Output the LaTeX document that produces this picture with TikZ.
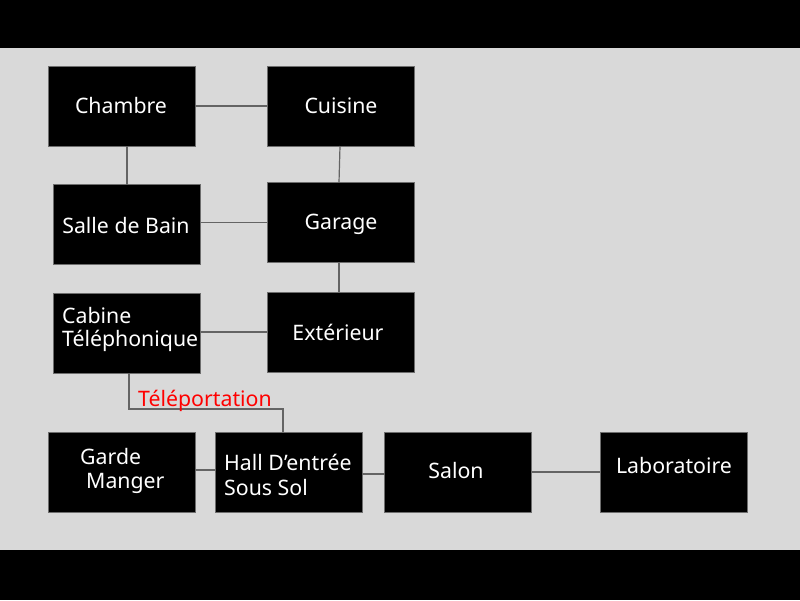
\documentclass[tikz,border=0pt]{standalone}
\usepackage{fontspec}
\setmainfont{Noto Sans}
\begin{document}
\begin{tikzpicture}[x=1pt,y=-1pt,
  room/.style={draw={rgb,255:red,110;green,110;blue,110},line width=0.6pt,fill=black,
    minimum width=147pt,minimum height=80pt,inner sep=0pt,outer sep=0pt},
  lbl/.style={text=white,font=\fontsize{21.3}{25}\selectfont,inner sep=0pt},
  conn/.style={draw={rgb,255:red,100;green,100;blue,100},line width=1.2pt}]
\definecolor{bg}{RGB}{217,217,217}
\useasboundingbox (0,0) rectangle (800,600);
\fill[bg] (0,0) rectangle (800,600);
\fill[black] (0,0) rectangle (800,48);
\fill[black] (0,550) rectangle (800,600);
% rooms
\node[room] (chambre) at (121.5,106) {};
\node[room] (cuisine) at (340.5,106) {};
\node[room] (salle) at (127,224.5) {};
\node[room] (garage) at (340.5,222.5) {};
\node[room] (cabine) at (127,333) {};
\node[room] (exterieur) at (340.5,332) {};
\node[room] (garde) at (121.5,472) {};
\node[room] (hall) at (288.5,472) {};
\node[room] (salon) at (458,472) {};
\node[room] (labo) at (673.5,472) {};
% labels
\node[lbl] at (121,106) {Chambre};
\node[lbl] at (341,106) {Cuisine};
\node[lbl] at (126,226) {Salle de Bain};
\node[lbl] at (341,224) {Garage};
\node[lbl,anchor=west] at (62,316) {Cabine};
\node[lbl,anchor=west] at (62,341) {Téléphonique};
\node[lbl] at (338,332) {Extérieur};
\node[lbl,anchor=west] at (80,457) {Garde};
\node[lbl,anchor=west] at (86,483) {Manger};
\node[lbl,anchor=west] at (224,462) {Hall D’entrée};
\node[lbl,anchor=west] at (224,488) {Sous Sol};
\node[lbl] at (456,471) {Salon};
\node[lbl] at (674,466) {Laboratoire};
% connectors
\draw[conn] (chambre.east) -- (cuisine.west);
\draw[conn] (salle.north |- chambre.south) -- (salle.north);
\draw[conn] ([xshift=-0.5pt]cuisine.south) -- ([xshift=-1.5pt]garage.north);
\draw[conn] (salle.east |- garage.west) -- (garage.west);
\draw[conn] ([xshift=-1.5pt]garage.south) -- ([xshift=-1.5pt]exterieur.north);
\draw[conn] (cabine.east |- exterieur.west) -- (exterieur.west);
\coordinate (tp) at ([xshift=2pt,yshift=-36pt]cabine.south);
\draw[conn] ([xshift=2pt]cabine.south) -- (tp) -| ([xshift=-5.5pt]hall.north);
\node[text=red,font=\fontsize{21.3}{25}\selectfont,inner sep=0pt,anchor=base west] (tplabel) at (138,406) {Téléportation};
\draw[conn] ([yshift=2pt]garde.east) -- ([yshift=2pt]hall.west);
\draw[conn] ([yshift=-2pt]hall.east) -- ([yshift=-2pt]salon.west);
\draw[conn] (salon.east) -- (labo.west);
\end{tikzpicture}
\end{document}
